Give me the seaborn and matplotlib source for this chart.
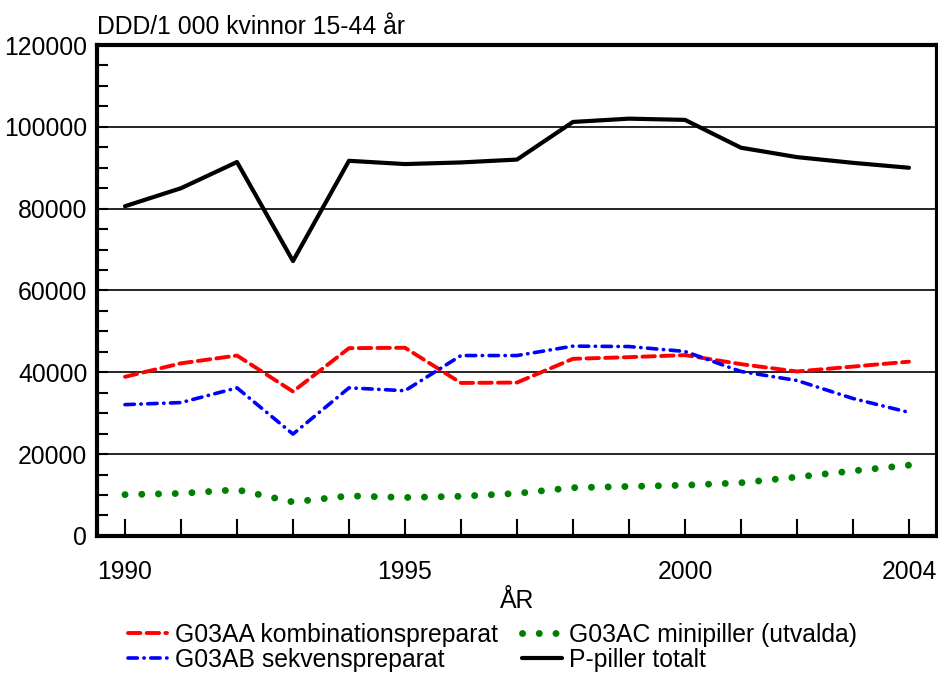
import matplotlib
matplotlib.use("Agg")
import matplotlib.pyplot as plt
import seaborn as sns
import pandas as pd
import numpy as np
from matplotlib.ticker import MultipleLocator, FixedLocator

years = list(range(1990, 2005))
g03aa = [38900, 42200, 44100, 35300, 45900, 46000, 37400, 37500, 43300, 43700, 44200, 42000, 40200, 41400, 42600]
g03ab = [32100, 32600, 36200, 24900, 36200, 35500, 44100, 44100, 46400, 46300, 45100, 40200, 38000, 33600, 30200]
g03ac = [10100, 10400, 11300, 8300, 9800, 9400, 9700, 10400, 11800, 12100, 12400, 13000, 14400, 15900, 17300]
total = [80600, 85000, 91400, 67200, 91700, 90900, 91300, 92000, 101200, 102000, 101700, 94900, 92600, 91200, 90000]

labels = ["G03AA kombinationspreparat", "G03AB sekvenspreparat",
          "G03AC minipiller (utvalda)", "P-piller totalt"]
y_title = "DDD/1 000 kvinnor 15-44 år"
x_label = "ÅR"
x_ticklabels = [1990, 1995, 2000, 2004]

sns.set_style("white", {"text.color": "black", "axes.labelcolor": "black",
                        "xtick.color": "black", "ytick.color": "black"})
plt.rcParams['font.family'] = ['Liberation Sans', 'DejaVu Sans']
FS = 17.8

df = pd.DataFrame({"year": years, labels[0]: g03aa, labels[1]: g03ab,
                   labels[2]: g03ac, labels[3]: total})

fig = plt.figure(figsize=(9.38, 6.75), dpi=100)
ax = fig.add_axes([0.1034, 0.206, 0.8955, 0.7273])

styles = {
    labels[0]: dict(color="#ff0000", lw=2.8, linestyle=(0, (3.2, 1.6)), dash_capstyle="round"),
    labels[1]: dict(color="#0000ff", lw=2.6, linestyle=(0, (2.6, 1.8, 0.1, 1.8)), dash_capstyle="round"),
    labels[2]: dict(color="#008000", lw=5.0, linestyle=(0, (0.01, 2.4)), dash_capstyle="round"),
    labels[3]: dict(color="#000000", lw=3.0, linestyle="-"),
}
for lab in labels:
    sns.lineplot(data=df, x="year", y=lab, ax=ax, label=lab, **styles[lab])

ax.set_xlim(1989.5, 2004.5)
ax.set_ylim(0, 120000)
ax.yaxis.set_major_locator(MultipleLocator(20000))
ax.yaxis.set_minor_locator(MultipleLocator(5000))
ax.xaxis.set_major_locator(FixedLocator(x_ticklabels))
ax.xaxis.set_minor_locator(FixedLocator(years))
ax.set_xticklabels([str(v) for v in x_ticklabels])
ax.grid(axis="y", which="major", color="black", lw=1.2)
ax.set_axisbelow(True)
for s in ax.spines.values():
    s.set_linewidth(3)
    s.set_color("black")
ax.tick_params(axis="x", which="both", direction="in", length=12, width=1.5,
               labelsize=FS, pad=17, bottom=True, colors="black")
ax.tick_params(axis="y", which="both", direction="in", length=8, width=1.5,
               labelsize=FS, pad=7, left=True, colors="black")
ax.set_xlabel(x_label, fontsize=FS, labelpad=4, color="black")
ax.set_ylabel("")
ax.text(0.0, 1.012, y_title, transform=ax.transAxes, fontsize=FS, ha="left",
        va="bottom", color="black")

ax.get_legend().remove()
handles, labs = ax.get_legend_handles_labels()
leg = fig.legend(handles, labs, loc="upper center", bbox_to_anchor=(0.525, 0.092), ncol=2,
                 frameon=False, fontsize=FS, handlelength=1.6, handletextpad=0.3,
                 columnspacing=1.0, labelspacing=0.05, borderaxespad=0)
for t in leg.get_texts():
    t.set_color("black")

fig.savefig("out.png", dpi=100)
